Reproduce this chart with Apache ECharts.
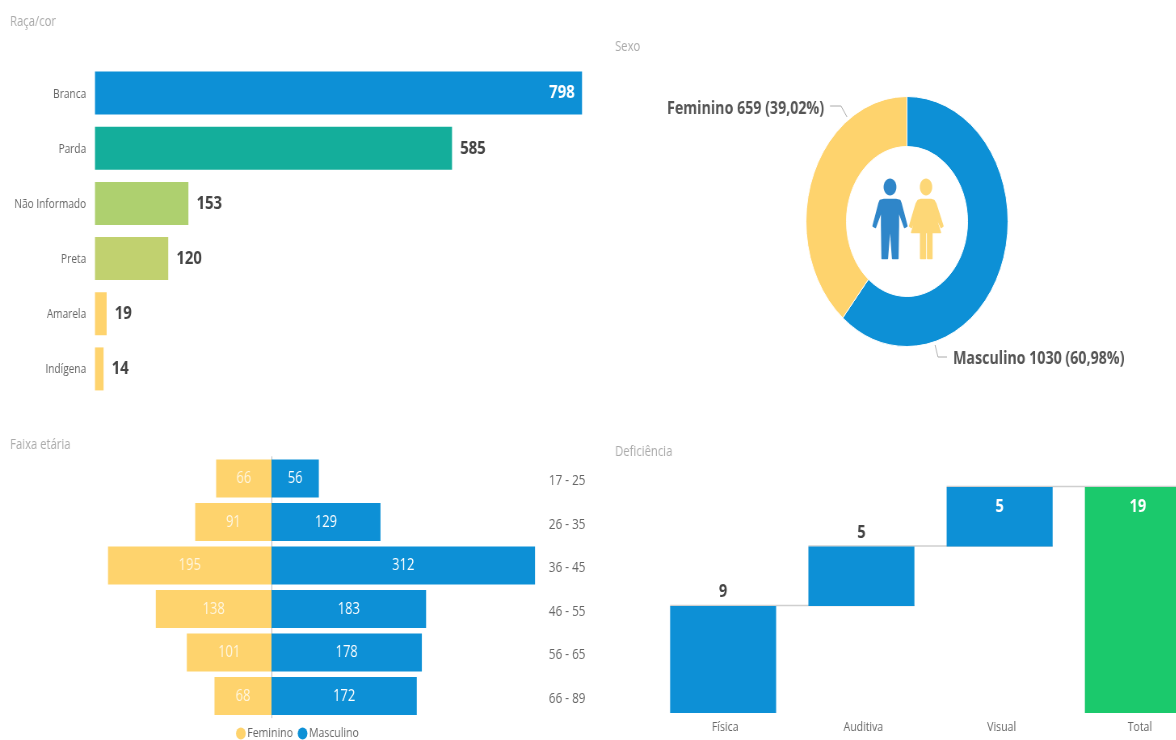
<!DOCTYPE html>
<html>
<head>
<meta charset="utf-8">
<style>
  html, body { margin: 0; padding: 0; background: #fff; overflow: hidden; }
  /* o original é um print achatado na horizontal: desenha largo e comprime */
  #main { position: absolute; left: 0; top: 0; width: 1456px; height: 740px; transform: scaleX(0.808); transform-origin: 0 0; }
</style>
<script src="https://cdn.jsdelivr.net/npm/echarts@6/dist/echarts.min.js"></script>
</head>
<body>
<div id="main"></div>
<script>
const racaCategorias = ["Branca", "Parda", "Não Informado", "Preta", "Amarela", "Indígena"];
const racaValores = [798, 585, 153, 120, 19, 14];
const racaCores = ["#0d90d6", "#14ae9b", "#aed06f", "#c1d16f", "#fed36d", "#fed36d"];

const sexoNomes = ["Masculino", "Feminino"];
const sexoValores = [1030, 659];

const faixas = ["17 - 25", "26 - 35", "36 - 45", "46 - 55", "56 - 65", "66 - 89"];
const faixaFeminino = [66, 91, 195, 138, 101, 68];
const faixaMasculino = [56, 129, 312, 183, 178, 172];

const defCategorias = ["Física", "Auditiva", "Visual", "Total"];
const defBase = [0, 9, 14, 0];
const defValores = [9, 5, 5, 19];
const defNiveis = [9, 14, 19];

const AZUL = "#0d90d6";
const AMARELO = "#fed36d";
const VERDE = "#1bc96c";
const FONTE = "'Open Sans', sans-serif";

// posicao x na tela -> x no canvas largo
const X = (x) => x / 0.808;
const XY = (pts) => pts.map((p) => [X(p[0]), p[1]]);
const BAR_DEF = X(106);

const sexoTotal = sexoValores[0] + sexoValores[1];
function sexoTexto(i) {
  let pct = (sexoValores[i] / sexoTotal * 100).toFixed(2).replace(".", ",");
  return sexoNomes[i] + " " + sexoValores[i] + " (" + pct + "%)";
}

function titulo(text, left, top) {
  return { text: text, left: X(left), top: top, textStyle: { color: "#aaa", fontSize: 14, fontWeight: "normal", fontFamily: FONTE } };
}

let option = {
  backgroundColor: "#fff",
  animation: false,
  textStyle: { fontFamily: FONTE },
  title: [
    titulo("Raça/cor", 6, 10),
    titulo("Sexo", 611, 35),
    titulo("Faixa etária", 6, 433),
    titulo("Deficiência", 611, 440)
  ],
  legend: {
    left: X(236) - 5,
    top: 722,
    itemWidth: 12,
    itemHeight: 12,
    itemGap: 6,
    icon: "circle",
    selectedMode: false,
    data: ["Feminino", "Masculino"],
    textStyle: { color: "#666", fontSize: 13, padding: [0, 0, 0, -3] }
  },
  grid: [
    { outerBoundsMode: "none", left: X(95), top: 65.5, width: X(487), height: 331 },
    { outerBoundsMode: "none", left: X(108), top: 456.75, width: X(163.5), height: 261 },
    { outerBoundsMode: "none", left: X(271.5), top: 456.75, width: X(263.5), height: 261 },
    { outerBoundsMode: "none", left: X(654), top: 487, width: X(553), height: 226 }
  ],
  xAxis: [
    { gridIndex: 0, type: "value", min: 0, max: 798, show: false },
    { gridIndex: 1, type: "value", min: 0, max: 195, inverse: true, show: false },
    { gridIndex: 2, type: "value", min: 0, max: 312, show: false },
    {
      gridIndex: 3,
      type: "category",
      data: defCategorias,
      axisLine: { show: false },
      axisTick: { show: false },
      axisLabel: { color: "#666", fontSize: 13, margin: 8, padding: [0, 0, 0, 5] }
    }
  ],
  yAxis: [
    {
      gridIndex: 0,
      type: "category",
      inverse: true,
      data: racaCategorias,
      axisLine: { show: false },
      axisTick: { show: false },
      axisLabel: { color: "#666", fontSize: 12.5, margin: 11, verticalAlign: "top", lineHeight: 2 }
    },
    {
      gridIndex: 1,
      type: "category",
      inverse: true,
      position: "right",
      data: faixas,
      axisLine: { show: true, lineStyle: { color: "#bbb", width: 1 } },
      axisTick: { show: false },
      axisLabel: { show: false }
    },
    {
      gridIndex: 2,
      type: "category",
      inverse: true,
      position: "right",
      data: faixas,
      axisLine: { show: false },
      axisTick: { show: false },
      axisLabel: { color: "#666", fontSize: 14.5, margin: 17, verticalAlign: "top", lineHeight: 5 }
    },
    { gridIndex: 3, type: "value", min: 0, max: 19, show: false }
  ],
  series: [
    {
      name: "Raça/cor",
      type: "bar",
      xAxisIndex: 0,
      yAxisIndex: 0,
      barWidth: 43,
      data: racaValores.map((v, i) => ({
        value: v,
        itemStyle: { color: racaCores[i] },
        label: i === 0
          ? { position: "insideRight", color: "#fff", distance: 9 }
          : { position: "right", color: "#444", distance: 10 }
      })),
      label: { show: true, fontSize: 18.5, fontWeight: "bold", padding: [5, 0, 0, 0] }
    },
    {
      name: "Feminino",
      type: "bar",
      xAxisIndex: 1,
      yAxisIndex: 1,
      barWidth: 38,
      itemStyle: { color: AMARELO },
      data: faixaFeminino,
      label: { show: true, position: "inside", color: "#fff6df", fontSize: 16, padding: [0, 0, 2, 0] }
    },
    {
      name: "Masculino",
      type: "bar",
      xAxisIndex: 2,
      yAxisIndex: 2,
      barWidth: 38,
      itemStyle: { color: AZUL },
      data: faixaMasculino,
      label: { show: true, position: "inside", color: "#fff", fontSize: 16, padding: [0, 0, 2, 0] }
    },
    {
      type: "pie",
      name: "Sexo",
      center: [X(907), 221.5],
      radius: [75, 125],
      startAngle: 90,
      silent: true,
      label: { show: false },
      labelLine: { show: false },
      itemStyle: { borderColor: "#fff", borderWidth: 1 },
      data: sexoNomes.map((n, i) => ({
        name: n,
        value: sexoValores[i],
        itemStyle: { color: i === 0 ? AZUL : AMARELO }
      }))
    },
    {
      name: "Conectores",
      type: "custom",
      xAxisIndex: 3,
      yAxisIndex: 3,
      z: 1,
      silent: true,
      encode: { x: 0, y: 1 },
      data: defNiveis.map((v, i) => [i, v]),
      renderItem: function(params, api) {
        let a = api.coord([api.value(0), api.value(1)]);
        let b = api.coord([api.value(0) + 1, api.value(1)]);
        return {
          type: "line",
          shape: { x1: a[0] - BAR_DEF / 2, y1: a[1] - 0.5, x2: b[0] + BAR_DEF / 2, y2: b[1] - 0.5 },
          style: { stroke: "#cfcfcf", lineWidth: 1.5 }
        };
      }
    },
    {
      name: "Base",
      type: "bar",
      stack: "def",
      xAxisIndex: 3,
      yAxisIndex: 3,
      barWidth: BAR_DEF,
      silent: true,
      itemStyle: { color: "transparent" },
      data: defBase
    },
    {
      name: "Deficiência",
      type: "bar",
      stack: "def",
      xAxisIndex: 3,
      yAxisIndex: 3,
      barWidth: BAR_DEF,
      z: 3,
      data: defValores.map((v, i) => ({
        value: v,
        itemStyle: { color: i === 3 ? VERDE : AZUL },
        label: i < 2
          ? { position: "top", color: "#444", distance: 5 }
          : { position: "insideTop", color: "#fff", distance: 11 }
      })),
      label: { show: true, fontSize: 18, fontWeight: "bold" }
    }
  ],
  graphic: [
    // rótulos do pie: a linha no original nao sai do meio da fatia
    { type: "text", left: X(667), top: 100, style: { text: sexoTexto(1), fill: "#555", font: "bold 17.6px " + FONTE } },
    { type: "text", left: X(953), top: 350, style: { text: sexoTexto(0), fill: "#555", font: "bold 17.6px " + FONTE } },
    { type: "polyline", shape: { points: XY([[830, 106], [841, 106], [847, 117]]) }, style: { fill: null, stroke: "#aaa", lineWidth: 1 } },
    { type: "polyline", shape: { points: XY([[935, 345], [938, 357], [947, 357]]) }, style: { fill: null, stroke: "#aaa", lineWidth: 1 } },
    // icones
    { type: "ellipse", shape: { cx: X(890), cy: 187, rx: X(6.4), ry: 8.5 }, style: { fill: "#2f86c9" } },
    {
      type: "polygon",
      shape: { points: XY([[884, 199.5], [896, 199.5], [900, 200.5], [901, 203], [907, 226], [904.5, 227.5], [898.5, 211], [898.5, 226], [898, 258.5], [892.5, 258.5], [890.5, 232], [889.5, 232], [887.5, 258.5], [882, 258.5], [881.5, 226], [881.5, 211], [875.5, 227.5], [873, 226], [879, 203], [880, 200.5]]) },
      style: { fill: "#2f86c9", stroke: "#2f86c9", lineWidth: 1.5, lineJoin: "round" }
    },
    { type: "ellipse", shape: { cx: X(926), cy: 187, rx: X(6.2), ry: 8.5 }, style: { fill: "#fdd777" } },
    {
      type: "polygon",
      shape: { points: XY([[921, 199.5], [931, 199.5], [934, 200.5], [936, 204], [943, 226], [941, 227.5], [934, 212], [940.5, 232.5], [932, 232.5], [932, 258.5], [927.5, 258.5], [927.5, 232.5], [925.5, 232.5], [925.5, 258.5], [920.5, 258.5], [920.5, 232.5], [911.5, 232.5], [918, 212], [911.5, 227.5], [909.5, 226], [916, 204], [918, 200.5]]) },
      style: { fill: "#fdd777", stroke: "#fdd777", lineWidth: 1.5, lineJoin: "round" }
    }
  ]
};

let myChart = echarts.init(document.getElementById("main"));
myChart.setOption(option);
</script>
</body>
</html>
